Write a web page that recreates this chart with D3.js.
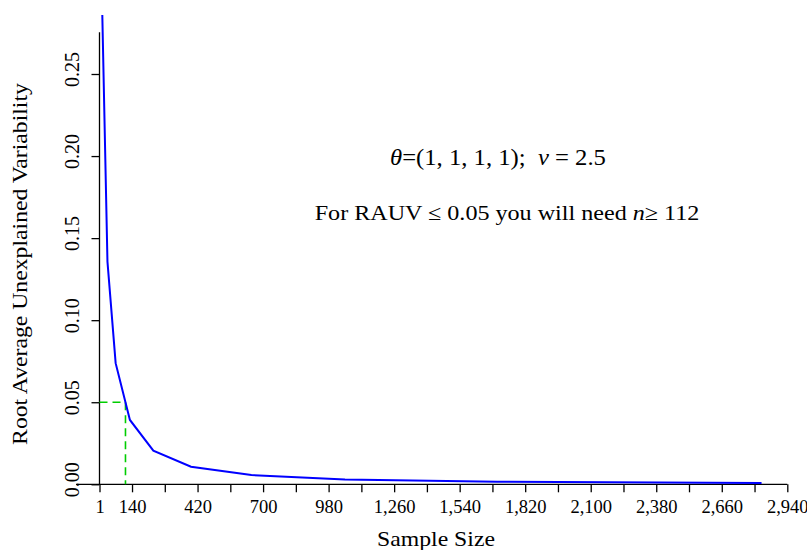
<!DOCTYPE html>
<html>
<head>
<meta charset="utf-8">
<script src="https://cdn.jsdelivr.net/npm/d3@7"></script>
<style>
  html, body { margin: 0; padding: 0; background: #fff; }
  svg { display: block; font-family: "Liberation Serif", "Times New Roman", serif; }
  text { white-space: pre; }
</style>
</head>
<body>
<svg id="chart" width="807" height="550"></svg>
<script>
// ---- data ----
const sampleSize = [13, 35, 70, 131, 231, 392, 650, 1050, 1700, 2830];
const rauv = [0.286, 0.1357, 0.0738, 0.0392, 0.0205, 0.0107, 0.0056, 0.0030, 0.0016, 0.0008];
const xTickValues = [1, 140, 280, 420, 560, 700, 840, 980, 1120, 1260, 1400, 1540, 1680, 1820, 1960, 2100, 2240, 2380, 2520, 2660, 2800, 2940];
const xLabelValues = [1, 140, 420, 700, 980, 1260, 1540, 1820, 2100, 2380, 2660, 2940];
const yTickValues = [0, 0.05, 0.10, 0.15, 0.20, 0.25];
const yAxisMax = 0.2755;
const threshold = 0.05;
const requiredN = 112;
const xTitle = "Sample Size";
const yTitle = "Root Average Unexplained Variability";

const svg = d3.select("#chart");
const x = d3.scaleLinear().domain([1, 2940]).range([99.5, 787.3]);
const y = d3.scaleLinear().domain([0, 0.25]).range([484.3, 74]);

function fitWidth(sel, target, ax) {
  const w = sel.node().getBBox().width;
  const s = target / w;
  sel.attr("transform", (sel.attr("transform") || "") + ` translate(${ax},0) scale(${s},1) translate(${-ax},0)`);
}

// clip region (plot area)
svg.append("clipPath").attr("id", "plotclip")
  .append("rect").attr("x", 0).attr("y", y(yAxisMax * 1.04)).attr("width", 807).attr("height", 550);

// x axis
const xAxis = d3.axisBottom(x).tickValues(xTickValues).tickSize(8).tickSizeOuter(0)
  .tickFormat(d => xLabelValues.includes(d) ? d3.format(",")(d) : "");
const gx = svg.append("g").attr("transform", `translate(0,${y(0)})`).call(xAxis);
gx.select(".domain").remove();
gx.selectAll(".tick line").attr("stroke", "#000").attr("stroke-width", 1.3);
gx.selectAll(".tick text").attr("font-size", 18.5).attr("font-family", "Liberation Serif")
  .attr("fill", "#000").attr("dy", null).attr("y", 29);
svg.append("line").attr("x1", 76).attr("x2", x(2940)).attr("y1", y(0)).attr("y2", y(0))
  .attr("stroke", "#000").attr("stroke-width", 1.3);

// y axis
const yAxis = d3.axisLeft(y).tickValues(yTickValues).tickSize(8).tickSizeOuter(0)
  .tickFormat(d3.format(".2f"));
const gy = svg.append("g").attr("transform", `translate(${x(1)},0)`).call(yAxis);
gy.select(".domain").remove();
gy.selectAll(".tick line").attr("stroke", "#000").attr("stroke-width", 1.3);
gy.selectAll(".tick text").attr("font-size", 21.5).attr("font-family", "Liberation Serif")
  .attr("fill", "#000").attr("text-anchor", "middle").attr("dy", null).attr("x", null)
  .attr("transform", "translate(-20.5,-5) rotate(-90)").attr("y", 0)
  .each(function () { fitWidth(d3.select(this), 35, 0); });
svg.append("line").attr("x1", x(1)).attr("x2", x(1)).attr("y1", y(0)).attr("y2", y(yAxisMax))
  .attr("stroke", "#000").attr("stroke-width", 1.3);

// threshold guide
svg.append("path")
  .attr("d", d3.line()([[x(1), y(threshold)], [x(requiredN), y(threshold)], [x(requiredN), y(0)]]))
  .attr("fill", "none").attr("stroke", "#00CD00").attr("stroke-width", 1.6).attr("stroke-dasharray", "8,5");

// curve
const pts = sampleSize.map((n, i) => [x(n), y(rauv[i])]);
svg.append("path").attr("clip-path", "url(#plotclip)")
  .attr("d", d3.line()(pts))
  .attr("fill", "none").attr("stroke", "#0000FF").attr("stroke-width", 2);

// axis titles
const xt = svg.append("text").attr("x", 436).attr("y", 546).attr("text-anchor", "middle")
  .attr("font-size", 21.5).attr("fill", "#000").text(xTitle);
fitWidth(xt, 118, 436);

const yt = svg.append("text").attr("text-anchor", "middle").attr("font-size", 22).attr("fill", "#000")
  .attr("transform", "translate(27,264) rotate(-90)").text(yTitle);
fitWidth(yt, 362, 0);

// annotations
const a1 = svg.append("text").attr("x", 498).attr("y", 165).attr("text-anchor", "middle")
  .attr("font-size", 23).attr("fill", "#000");
a1.append("tspan").attr("font-style", "italic").text("θ");
a1.append("tspan").text("=(1, 1, 1, 1);  ");
a1.append("tspan").attr("font-style", "italic").text("ν");
a1.append("tspan").text(" = 2.5");
fitWidth(a1, 216, 498);

const a2 = svg.append("text").attr("x", 507).attr("y", 220).attr("text-anchor", "middle")
  .attr("font-size", 21.5).attr("fill", "#000");
a2.append("tspan").text("For RAUV ≤ 0.05 you will need ");
a2.append("tspan").attr("font-style", "italic").text("n");
a2.append("tspan").text("≥ 112");
fitWidth(a2, 385, 507);
</script>
</body>
</html>
